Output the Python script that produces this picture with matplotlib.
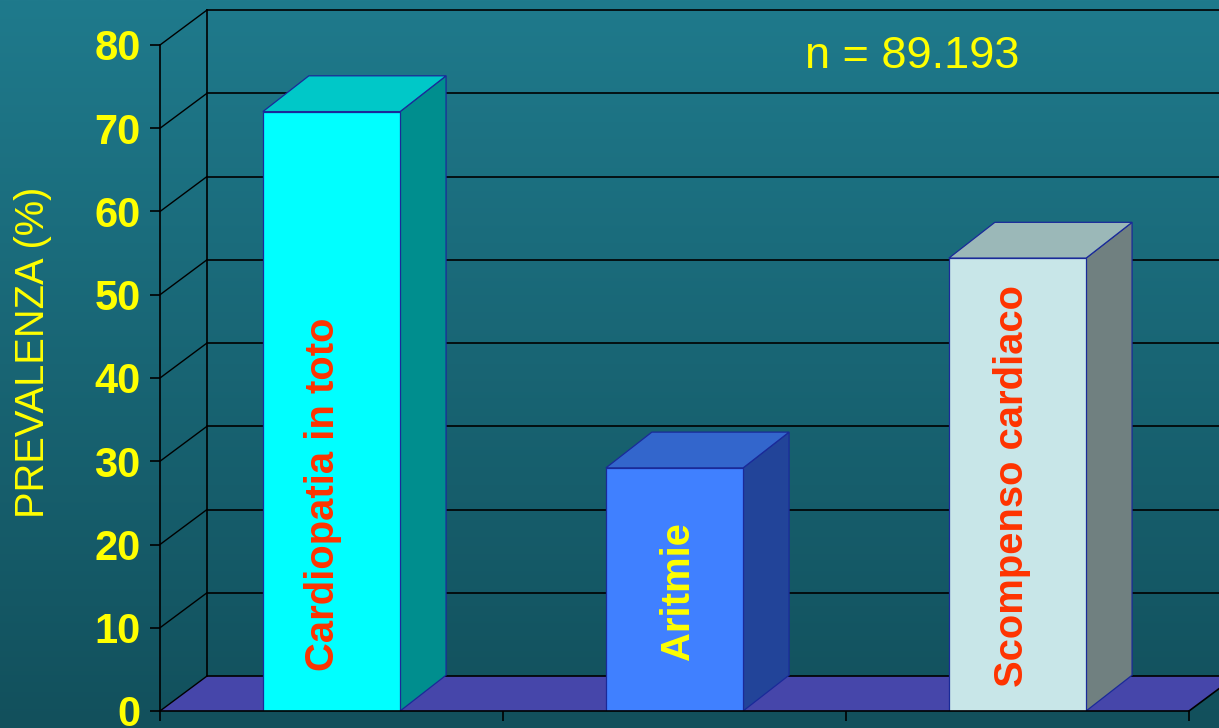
import numpy as np
import matplotlib
matplotlib.use("Agg")
import matplotlib.pyplot as plt
from matplotlib.patches import Polygon, Rectangle
from matplotlib.colors import LinearSegmentedColormap

# prevalence (%) per category
categories = ["Cardiopatia in toto", "Aritmie", "Scompenso cardiaco"]
values = [72.0, 29.2, 54.4]
label_colors = ["#ff3300", "#ffff00", "#ff3300"]
label_pos = [(0.474, 26.0), (1.509, 14.4), (2.485, 27.0)]
yticks = [0, 10, 20, 30, 40, 50, 60, 70, 80]
note = "n = 89.193"

# face colours: front, top, side
bar_faces = [
    ("#00ffff", "#00c8c8", "#008e8e"),
    ("#4080ff", "#3366cc", "#224499"),
    ("#c8e6e8", "#9bb8b8", "#708080"),
]

YELLOW = "#ffff00"
FONT = "Liberation Sans"
WALL_DX, WALL_DY = 0.137, 4.2     # depth of the chart box in data units
BAR_DX, BAR_DY = 0.134, 4.3       # depth of each column
BAR_W = 0.40

fig = plt.figure(figsize=(12.19, 7.28), dpi=100)

# background gradient
bg = fig.add_axes([0, 0, 1, 1], zorder=-10)
cmap = LinearSegmentedColormap.from_list("bg", ["#12505c", "#1f7a8c"])
bg.imshow(np.linspace(0, 1, 256).reshape(-1, 1), aspect="auto", cmap=cmap,
          origin="lower", extent=[0, 1, 0, 1])
bg.set_axis_off()

W, H = 1219, 728
ax = fig.add_axes([160 / W, (H - 711) / H, 1029 / W, 666 / H])
ax.set_facecolor("none")
ax.set_xlim(0, 3)
ax.set_ylim(0, 80)

# floor
floor = Polygon([(0, 0), (3, 0), (3 + WALL_DX, WALL_DY), (WALL_DX, WALL_DY)],
                closed=True, facecolor="#4646aa", edgecolor="none",
                clip_on=False, zorder=1)
ax.add_patch(floor)
ax.plot([3, 3 + WALL_DX], [0, WALL_DY], color="black", lw=1.2,
        clip_on=False, zorder=2)

# back wall and side wall grid
for v in yticks:
    ax.plot([WALL_DX, 3.3], [v + WALL_DY, v + WALL_DY], color="black",
            lw=1.2, clip_on=False, zorder=2)
    ax.plot([0, WALL_DX], [v, v + WALL_DY], color="black", lw=1.0,
            clip_on=False, zorder=2)
ax.plot([WALL_DX, WALL_DX], [WALL_DY, 80 + WALL_DY], color="black", lw=1.2,
        clip_on=False, zorder=2)

# 3D columns
edge = "#1a2a99"
for i, (val, faces) in enumerate(zip(values, bar_faces)):
    x0 = i + 0.5 - BAR_W / 2
    x1 = x0 + BAR_W
    front, top, side = faces
    ax.add_patch(Polygon([(x1, 0), (x1 + BAR_DX, BAR_DY),
                          (x1 + BAR_DX, val + BAR_DY), (x1, val)],
                         facecolor=side, edgecolor=edge, lw=0.9, zorder=5))
    ax.add_patch(Polygon([(x0, val), (x1, val), (x1 + BAR_DX, val + BAR_DY),
                          (x0 + BAR_DX, val + BAR_DY)],
                         facecolor=top, edgecolor=edge, lw=0.9, zorder=5,
                         clip_on=False))
    ax.add_patch(Rectangle((x0, 0), BAR_W, val, facecolor=front,
                           edgecolor=edge, lw=0.9, zorder=6))

for name, col, (lx, ly) in zip(categories, label_colors, label_pos):
    ax.text(lx, ly, name, rotation=90, ha="center", va="center", color=col,
            fontsize=28.8, fontweight="bold", family=FONT, zorder=8)

# axes styling
for s in ["top", "right"]:
    ax.spines[s].set_visible(False)
for s in ["left", "bottom"]:
    ax.spines[s].set_color("black")
    ax.spines[s].set_linewidth(1.2)
    ax.spines[s].set_zorder(7)
ax.set_yticks(yticks)
ax.set_xticks([0, 1, 2, 3])
ax.set_xticklabels([])
ax.tick_params(axis="y", direction="out", length=7, width=1.2, pad=7,
               colors="black", labelcolor=YELLOW, labelsize=30)
ax.tick_params(axis="x", direction="out", length=7, width=1.2, colors="black")
for t in ax.get_yticklabels():
    t.set_fontweight("bold")
    t.set_family(FONT)

ax.text(-0.1234, 0.539, "PREVALENZA (%)", transform=ax.transAxes,
        rotation=90, ha="center", va="center", color=YELLOW, fontsize=28.7,
        family=FONT)
ax.text(0.731, 0.982, note, transform=ax.transAxes, ha="center",
        va="center", color=YELLOW, fontsize=32.5, family=FONT)

fig.savefig("out.png", dpi=100)
